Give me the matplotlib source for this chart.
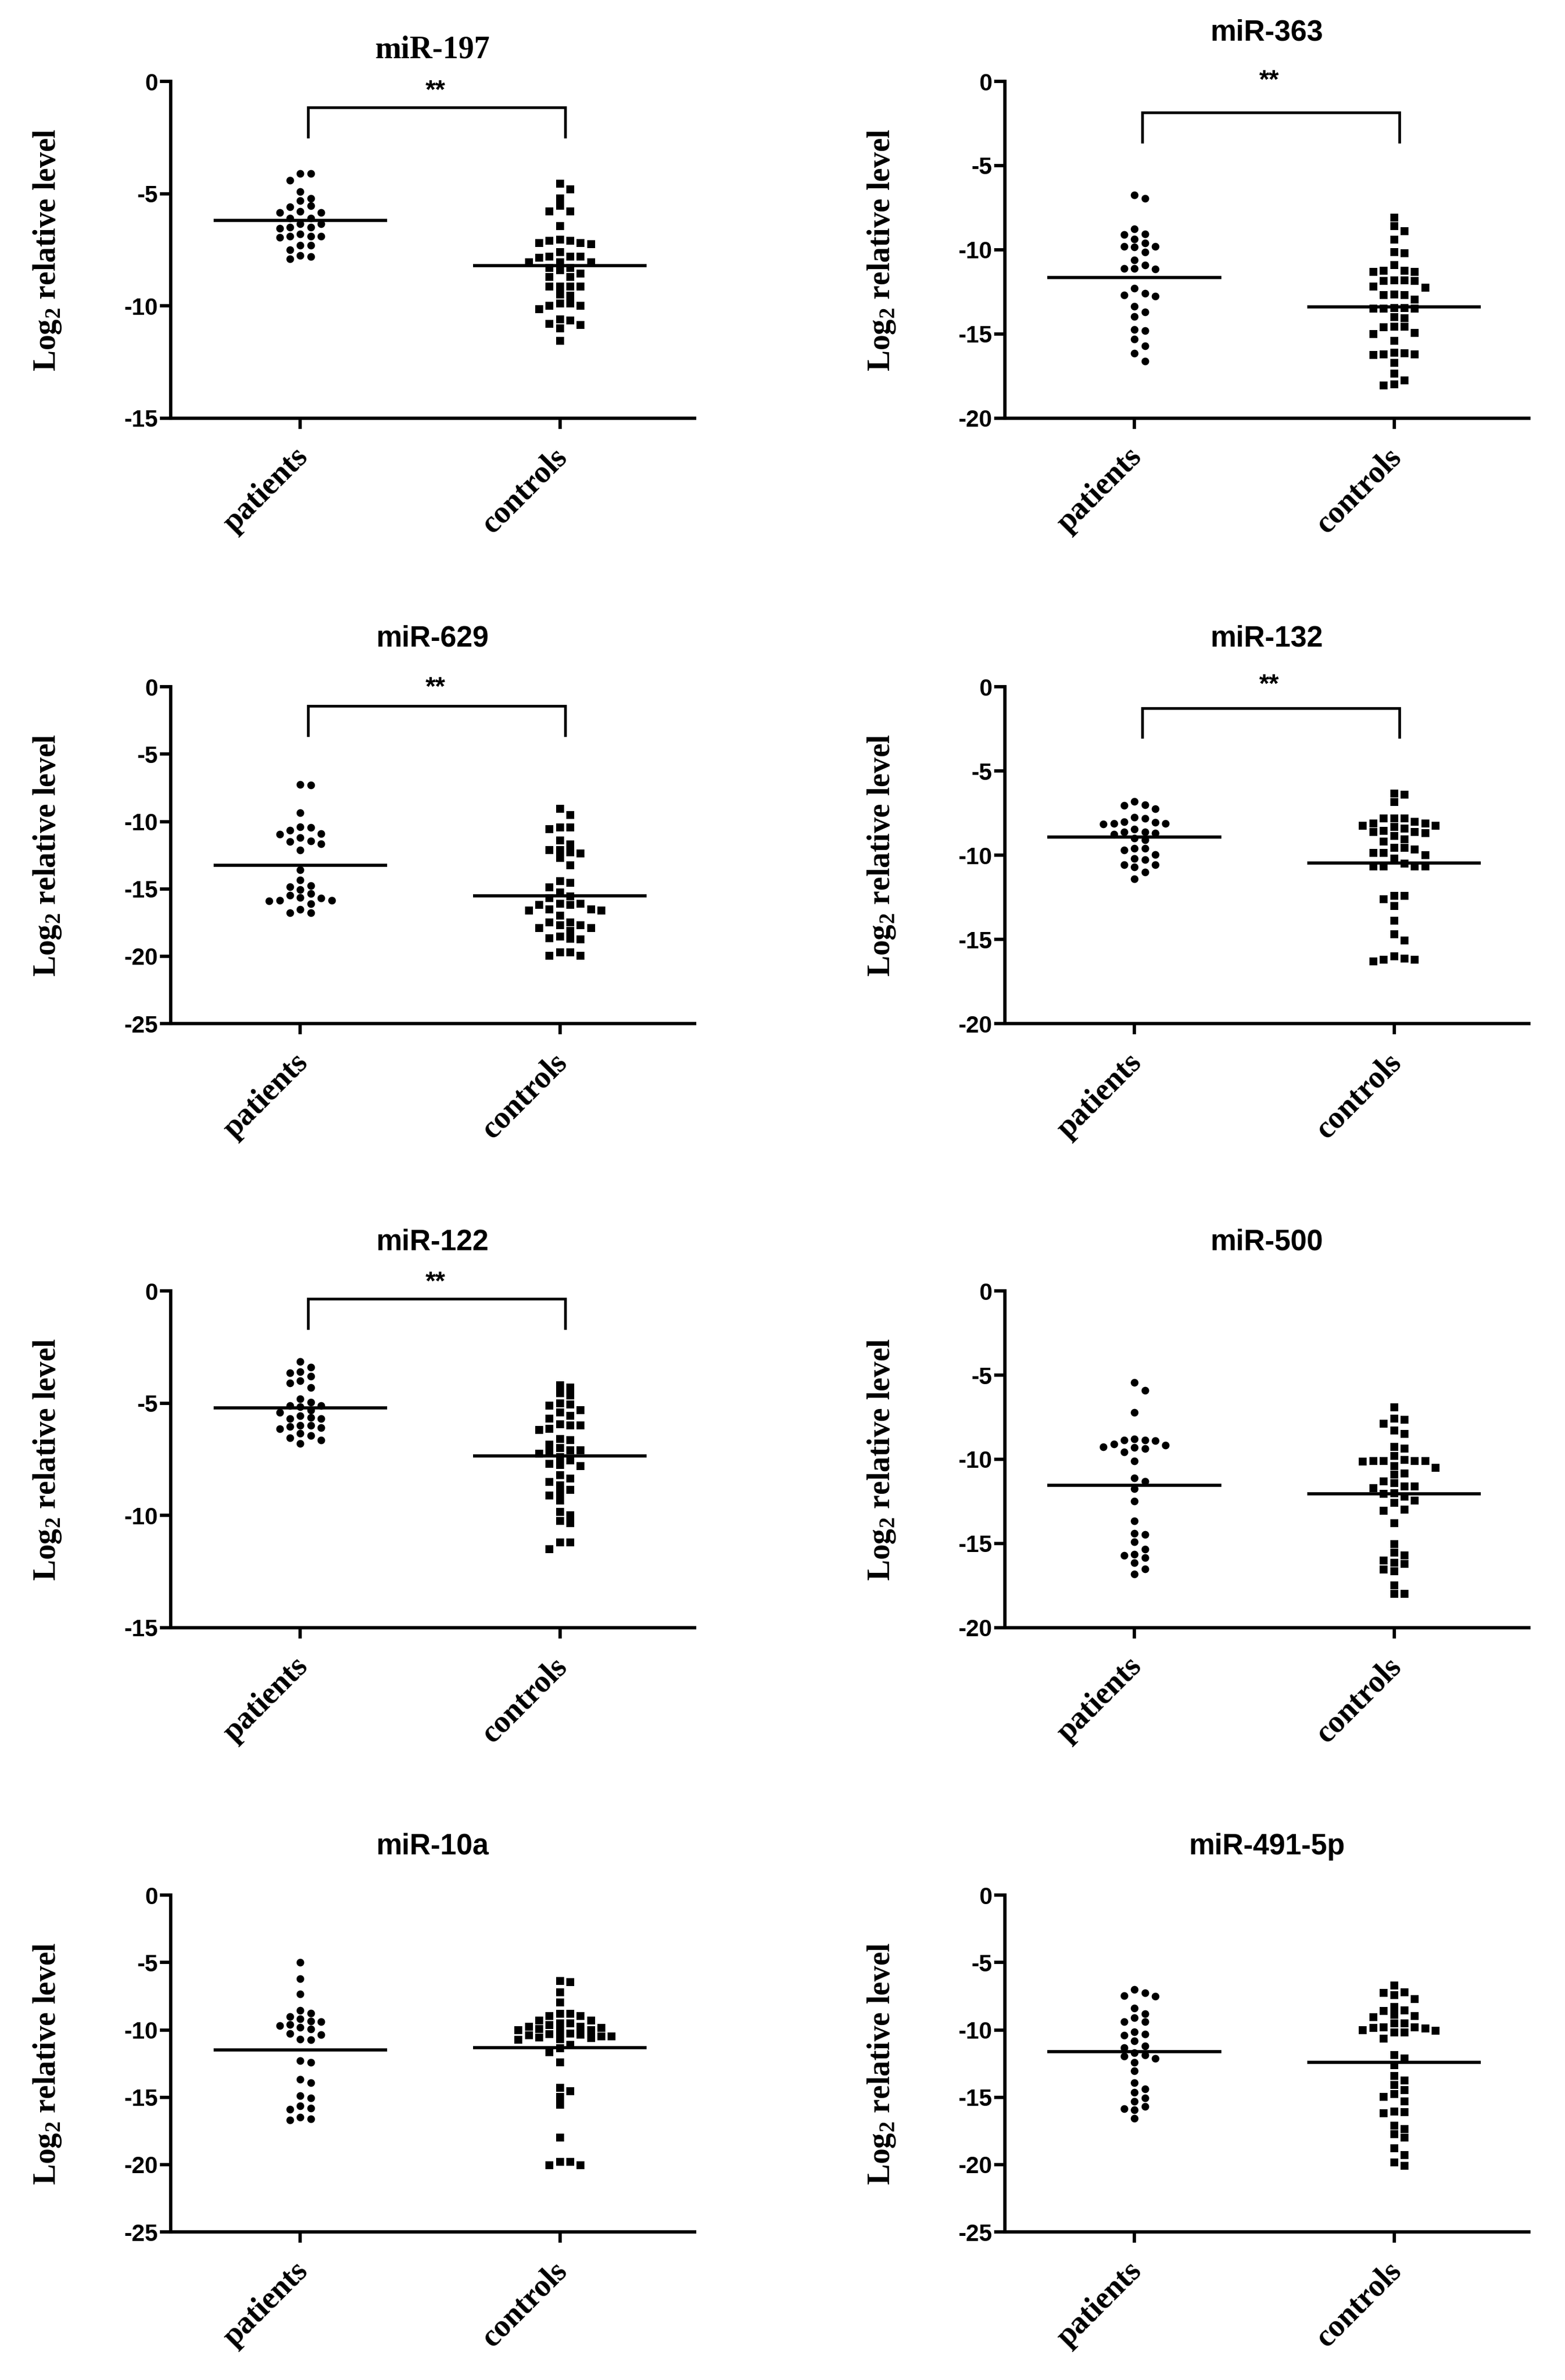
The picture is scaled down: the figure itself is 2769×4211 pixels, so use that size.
import numpy as np
import matplotlib
matplotlib.use('Agg')
import matplotlib.pyplot as plt
from matplotlib.transforms import ScaledTranslation

# ---- data (log2 relative level) ----
titles = ['miR-197', 'miR-363', 'miR-629', 'miR-132',
          'miR-122', 'miR-500', 'miR-10a', 'miR-491-5p']
groups = ['patients', 'controls']
y_bottom = [-15, -20, -25, -20, -15, -20, -25, -25]

p_197 = [-4.1, -4.1, -4.4, -4.9, -5.2, -5.3, -5.55, -5.6, -5.8, -5.85, -5.85, -6.1, -6.1,
         -6.35, -6.35, -6.5, -6.5, -6.55, -6.8, -6.9, -6.9, -6.9, -6.95, -7.3, -7.3, -7.5,
         -7.75, -7.8, -7.9]
c_197 = [-4.55, -4.8, -5.2, -5.55, -5.8, -5.8, -6.45, -7.05, -7.2, -7.2, -7.25, -7.1, -7.1,
         -7.6, -7.8, -7.8, -7.85, -7.8, -8.05, -8.3, -8.05, -8.3, -8.05, -8.7, -8.4, -8.55,
         -8.7, -9.15, -9.15, -9.15, -9.15, -9.5, -9.55, -9.9, -10.0, -10.0, -9.9, -10.15,
         -10.6, -10.65, -10.8, -10.85, -11.0, -11.55]
p_363 = [-6.75, -6.95, -8.75, -9.1, -9.05, -9.35, -9.6, -9.8, -9.85, -9.8, -10.15, -10.6,
         -10.9, -11.1, -11.1, -11.15, -12.3, -12.6, -12.7, -12.75, -13.35, -13.7, -13.95,
         -14.75, -14.8, -15.3, -15.7, -16.15, -16.6]
c_363 = [-8.1, -8.6, -8.9, -9.4, -10.15, -10.2, -10.9, -11.25, -11.25, -11.3, -11.3, -11.8,
         -11.85, -11.8, -11.85, -12.2, -12.25, -12.65, -12.7, -12.7, -12.95, -13.45, -13.5,
         -13.5, -13.5, -13.45, -14.0, -14.05, -14.55, -14.55, -14.6, -14.95, -15.0, -15.4,
         -16.1, -16.2, -16.25, -16.2, -16.15, -16.7, -17.35, -17.75, -18.0, -18.05]
p_629 = [-7.25, -7.3, -9.35, -10.4, -10.45, -10.65, -10.9, -10.95, -11.2, -11.45, -11.5,
         -11.65, -12.1, -13.6, -14.35, -14.75, -14.85, -15.05, -15.35, -15.45, -15.65,
         -15.85, -15.9, -15.85, -15.7, -16.1, -16.5, -16.75, -16.75]
c_629 = [-9.05, -9.5, -10.55, -10.45, -10.45, -11.4, -11.7, -12.1, -12.7, -12.35, -12.3,
         -12.1, -13.25, -14.4, -14.55, -14.9, -15.25, -15.55, -15.7, -16.1, -16.2, -16.2,
         -16.1, -16.5, -16.6, -16.6, -16.5, -17.0, -17.5, -17.7, -17.9, -17.9, -17.7, -17.5,
         -18.1, -18.55, -18.7, -18.75, -18.65, -19.7, -19.95, -19.95, -19.7]
p_132 = [-6.8, -7.05, -7.0, -7.25, -7.75, -7.8, -8.05, -8.1, -8.15, -8.1, -8.0, -8.45, -8.6,
         -8.7, -8.75, -8.6, -9.0, -9.1, -9.6, -9.7, -9.6, -9.95, -10.25, -10.2, -10.55,
         -10.7, -10.55, -11.0, -11.4]
c_132 = [-6.4, -6.35, -6.85, -7.8, -8.0, -8.1, -8.25, -8.4, -8.3, -8.25, -8.1, -7.8, -7.8,
         -8.6, -8.7, -8.6, -8.85, -8.55, -9.05, -9.2, -9.55, -9.85, -10.0, -9.85, -9.65,
         -9.55, -10.2, -10.65, -10.65, -10.65, -10.65, -10.5, -12.6, -12.4, -12.4, -13.0,
         -13.9, -14.7, -15.05, -16.0, -16.2, -16.3, -16.2, -16.15]
p_122 = [-3.15, -3.4, -3.6, -3.65, -3.8, -4.0, -4.1, -4.3, -4.8, -4.95, -5.1, -5.15, -5.1,
         -5.3, -5.4, -5.55, -5.7, -5.65, -5.7, -6.0, -6.1, -6.15, -6.05, -6.0, -6.35, -6.45,
         -6.55, -6.65, -6.8]
c_122 = [-4.3, -4.2, -4.65, -4.55, -5.05, -5.1, -5.0, -5.4, -5.3, -5.55, -5.7, -6.0, -6.15,
         -6.2, -6.0, -5.95, -6.65, -6.6, -6.85, -7.1, -7.2, -7.25, -7.1, -7.0, -7.4, -7.55,
         -7.7, -7.8, -7.75, -8.2, -8.5, -8.35, -8.65, -8.85, -9.0, -9.1, -9.35, -9.85,
         -10.0, -10.25, -10.35, -11.2, -11.2, -11.5]
p_500 = [-5.45, -5.9, -7.2, -8.8, -8.85, -9.1, -9.25, -9.55, -9.35, -9.3, -9.15, -8.9,
         -8.85, -10.1, -11.1, -11.3, -11.75, -12.5, -13.65, -14.4, -14.45, -14.9, -15.35,
         -15.65, -15.85, -15.7, -16.15, -16.5, -16.8]
c_500 = [-6.9, -7.6, -7.65, -7.9, -8.3, -8.5, -9.35, -9.25, -9.8, -10.05, -10.1, -10.1,
         -10.5, -10.15, -10.1, -10.1, -10.4, -10.9, -10.85, -11.4, -11.6, -11.7, -11.6,
         -11.3, -12.05, -12.0, -12.2, -12.45, -12.6, -13.0, -13.05, -13.8, -15.05, -15.55,
         -15.7, -16.0, -16.15, -16.2, -16.55, -16.65, -17.5, -18.0, -18.0]
p_10a = [-5.0, -6.2, -7.35, -8.75, -8.55, -9.0, -9.2, -9.4, -9.7, -9.95, -9.8, -9.6, -9.35,
         -10.25, -10.35, -10.7, -10.75, -12.4, -12.3, -13.65, -13.9, -15.05, -14.9, -15.8,
         -15.9, -15.65, -16.5, -16.7, -16.6]
c_10a = [-6.45, -6.35, -7.2, -7.95, -8.8, -8.95, -8.95, -8.8, -9.3, -9.5, -9.75, -9.85,
         -10.0, -10.0, -9.95, -9.75, -9.65, -9.5, -9.3, -10.1, -10.3, -10.5, -10.5, -10.6,
         -10.75, -10.7, -10.55, -10.4, -10.35, -10.25, -11.1, -11.35, -11.65, -12.4, -14.3,
         -14.55, -14.95, -15.55, -18.0, -19.8, -20.05, -20.05, -19.8]
p_491 = [-7.0, -7.45, -7.5, -7.25, -8.4, -8.8, -9.1, -9.4, -9.4, -10.15, -10.4, -10.3,
         -10.8, -11.2, -11.3, -11.85, -12.1, -11.95, -11.7, -12.4, -13.05, -13.9, -14.4,
         -14.65, -15.05, -15.3, -15.85, -15.7, -15.95, -16.55]
c_491 = [-6.7, -7.25, -7.4, -7.2, -7.7, -8.3, -8.6, -8.55, -8.95, -9.5, -9.05, -8.9, -9.5,
         -9.8, -10.05, -10.2, -9.85, -9.8, -10.2, -10.0, -9.9, -10.65, -11.85, -12.1, -12.6,
         -13.4, -13.75, -14.1, -14.45, -14.75, -14.95, -15.3, -16.2, -16.05, -16.1, -17.1,
         -17.35, -17.75, -18.0, -18.8, -19.3, -19.85, -20.1]

patients = [p_197, p_363, p_629, p_132, p_122, p_500, p_10a, p_491]
controls = [c_197, c_363, c_629, c_132, c_122, c_500, c_10a, c_491]
mean_patients = [-6.2, -11.65, -13.25, -8.93, -5.2, -11.55, -11.5, -11.6]
mean_controls = [-8.2, -13.4, -15.5, -10.45, -7.35, -12.05, -11.3, -12.4]

# significance brackets (None = not shown)
sig_bar = [-1.15, -1.85, -1.4, -1.25, -0.35, None, None, None]
sig_star = [-0.45, 0.0, -0.1, 0.1, 0.35, None, None, None]

# ---- layout ----
W, H = 2769, 4211
fig = plt.figure(figsize=(W / 100, H / 100), dpi=100)
col_left = [0.109, 0.642]
row_bottom = [0.8243, 0.5699, 0.3161, 0.0622]
ax_w, ax_h = 0.335, 0.1415

serif = 'Liberation Serif'
sans = 'Liberation Sans'
LW = 4.2


def swarm(ax, x0, vals, step, gap_px):
    vals = np.asarray(vals, float)
    ypix = ax.transData.transform(np.column_stack([np.full(len(vals), x0), vals]))[:, 1]
    order = np.argsort(-vals, kind='stable')
    used = {}
    off = np.zeros(len(vals))
    cand = [0]
    for k in range(1, 12):
        cand += [k, -k]
    for i in order:
        for k in cand:
            if all(abs(ypix[i] - y) >= gap_px for y in used.get(k, [])):
                used.setdefault(k, []).append(ypix[i])
                off[i] = k * step
                break
    return x0 + off


for n in range(8):
    r, c = divmod(n, 2)
    ax = fig.add_axes([col_left[c], row_bottom[r], ax_w, ax_h])
    ax.set_xlim(-0.5, 1.52)
    ax.set_ylim(y_bottom[n], 0)

    for x0, vals, mk in [(0, patients[n], 'o'), (1, controls[n], 's')]:
        xs = swarm(ax, x0, vals, 0.04, 13.5)
        ax.plot(xs, vals, ls='none', marker=mk, ms=9.8 if mk == 'o' else 9.8,
                mfc='black', mec='black', mew=0, clip_on=False, zorder=3)
    ax.hlines([mean_patients[n]], -0.335, 0.335, color='black', lw=4, zorder=4)
    ax.hlines([mean_controls[n]], 1 - 0.335, 1 + 0.335, color='black', lw=4, zorder=4)

    if sig_bar[n] is not None:
        span = -y_bottom[n]
        leg = sig_bar[n] - 0.087 * span
        ax.plot([0.03, 0.03, 1.02, 1.02], [leg, sig_bar[n], sig_bar[n], leg],
                color='black', lw=3.4, clip_on=False, solid_joinstyle='miter')
        ax.text(0.52, sig_star[n], '**', ha='center', va='center', fontsize=33,
                fontweight='bold', family=sans, clip_on=False)

    for s in ['top', 'right']:
        ax.spines[s].set_visible(False)
    for s in ['left', 'bottom']:
        ax.spines[s].set_linewidth(LW)
    ax.set_yticks(np.arange(0, y_bottom[n] - 1, -5))
    ax.set_yticklabels([str(v) for v in np.arange(0, y_bottom[n] - 1, -5)])
    ax.set_xticks([0, 1])
    ax.set_xticklabels(groups)
    ax.tick_params(axis='both', direction='out', length=14, width=LW)
    ax.tick_params(axis='y', pad=2, labelsize=30)
    ax.tick_params(axis='x', pad=30)
    for lab in ax.get_yticklabels():
        lab.set_fontfamily(sans)
        lab.set_fontweight('bold')
    for lab in ax.get_xticklabels():
        lab.set_fontfamily(serif)
        lab.set_fontweight('bold')
        lab.set_fontsize(40)
        lab.set_rotation(45)
        lab.set_ha('right')
        lab.set_va('center')
        lab.set_rotation_mode('anchor')
        lab.set_transform(lab.get_transform() + ScaledTranslation(0.05, 0, fig.dpi_scale_trans))

    ax.set_ylabel(r'Log$_{\mathregular{2}}$ relative level', fontsize=40,
                  fontweight='bold', family=serif)
    ax.yaxis.set_label_coords(-0.205, 0.5)
    if n == 0:
        ax.set_title(titles[n], fontsize=40, fontweight='bold', family=serif, pad=30)
    else:
        ax.set_title(titles[n], fontsize=37, fontweight='bold', family=sans, pad=52)

fig.savefig('out.png', dpi=100, facecolor='white')
